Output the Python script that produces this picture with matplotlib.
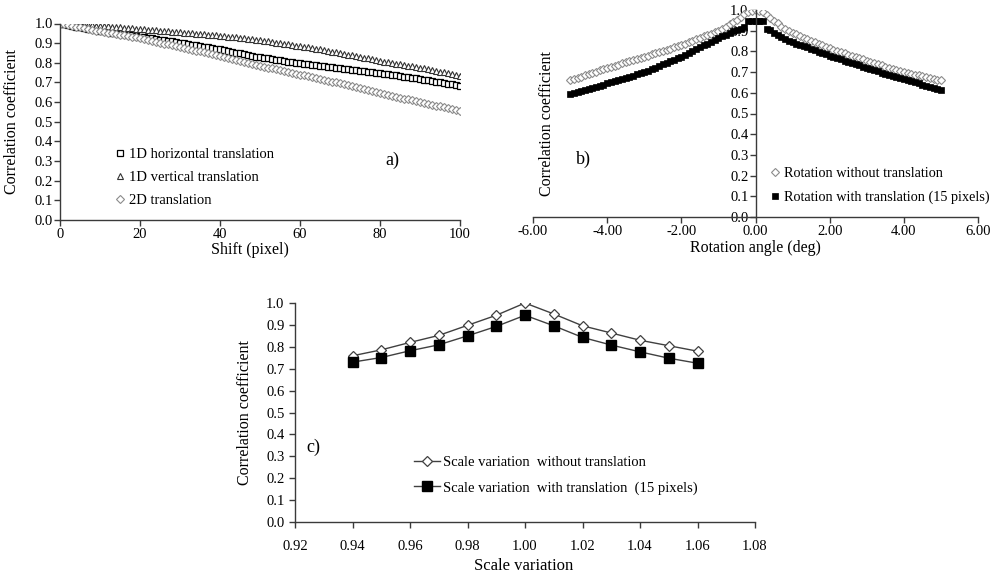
import numpy as np
import matplotlib
matplotlib.use("Agg")
import matplotlib.pyplot as plt

plt.rcParams['font.family'] = ['Liberation Serif', 'DejaVu Serif']

# ---------------- Panel a data ----------------
shift = list(range(0, 101))
horiz_1d = [1.000,0.996,0.992,0.988,0.984,0.980,0.977,0.973,0.970,0.966,0.963,
            0.960,0.957,0.954,0.951,0.948,0.945,0.942,0.939,0.936,0.933,
            0.930,0.927,0.924,0.921,0.918,0.915,0.912,0.909,0.906,0.903,
            0.899,0.896,0.892,0.889,0.885,0.882,0.878,0.875,0.871,0.868,
            0.864,0.860,0.856,0.852,0.848,0.844,0.840,0.836,0.832,0.828,
            0.825,0.822,0.819,0.816,0.813,0.809,0.806,0.803,0.800,0.797,
            0.795,0.792,0.790,0.787,0.785,0.782,0.780,0.777,0.775,0.772,
            0.770,0.767,0.765,0.762,0.760,0.757,0.755,0.753,0.750,0.748,
            0.745,0.742,0.739,0.736,0.733,0.730,0.727,0.724,0.721,0.718,
            0.715,0.711,0.708,0.704,0.701,0.697,0.694,0.690,0.687,0.683]
vert_1d = [1.000,0.999,0.998,0.996,0.995,0.994,0.993,0.992,0.991,0.989,0.988,
           0.986,0.985,0.983,0.982,0.980,0.978,0.977,0.975,0.974,0.972,
           0.970,0.968,0.967,0.965,0.963,0.962,0.960,0.958,0.957,0.955,
           0.953,0.952,0.950,0.948,0.946,0.945,0.943,0.941,0.940,0.938,
           0.936,0.933,0.931,0.929,0.927,0.924,0.922,0.920,0.917,0.915,
           0.912,0.909,0.906,0.903,0.900,0.897,0.894,0.891,0.888,0.885,
           0.882,0.878,0.875,0.871,0.868,0.864,0.861,0.857,0.854,0.850,
           0.846,0.842,0.838,0.834,0.830,0.826,0.822,0.818,0.814,0.810,
           0.806,0.803,0.799,0.796,0.792,0.789,0.785,0.782,0.778,0.775,
           0.771,0.767,0.763,0.759,0.755,0.751,0.747,0.743,0.739,0.735]
trans_2d = [1.000,0.996,0.992,0.988,0.984,0.980,0.976,0.972,0.968,0.964,0.960,
            0.957,0.953,0.950,0.946,0.943,0.939,0.936,0.932,0.929,0.925,
            0.921,0.916,0.912,0.907,0.903,0.898,0.894,0.889,0.885,0.880,
            0.876,0.871,0.867,0.862,0.858,0.853,0.849,0.844,0.840,0.835,
            0.830,0.825,0.820,0.815,0.810,0.805,0.800,0.795,0.790,0.785,
            0.781,0.776,0.772,0.767,0.763,0.758,0.754,0.749,0.745,0.740,
            0.736,0.731,0.727,0.722,0.718,0.713,0.709,0.704,0.700,0.695,
            0.690,0.685,0.680,0.675,0.670,0.665,0.660,0.655,0.650,0.645,
            0.641,0.636,0.632,0.627,0.623,0.618,0.614,0.609,0.605,0.600,
            0.596,0.591,0.587,0.582,0.578,0.573,0.569,0.564,0.560,0.555]

# ---------------- Panel b data ----------------
angle = [round(-5.0 + 0.1 * i, 1) for i in range(101)]
rot_no_trans = [0.660,0.666,0.672,0.678,0.684,0.690,0.696,0.702,0.708,0.714,
                0.720,0.725,0.731,0.736,0.742,0.747,0.753,0.758,0.764,0.769,
                0.775,0.780,0.786,0.791,0.797,0.802,0.808,0.813,0.819,0.824,
                0.830,0.837,0.844,0.851,0.858,0.865,0.872,0.879,0.886,0.893,
                0.900,0.910,0.920,0.930,0.940,0.950,0.965,0.980,0.990,0.997,
                1.000,0.997,0.990,0.975,0.960,0.945,0.935,0.920,0.910,0.900,
                0.890,0.882,0.874,0.867,0.859,0.852,0.845,0.837,0.830,0.822,
                0.815,0.809,0.803,0.797,0.791,0.785,0.779,0.773,0.767,0.761,
                0.755,0.749,0.744,0.738,0.733,0.727,0.722,0.716,0.711,0.705,
                0.700,0.696,0.692,0.688,0.684,0.680,0.676,0.672,0.668,0.664,0.660]
rot_with_trans = [0.595,0.600,0.605,0.610,0.615,0.620,0.625,0.630,0.635,0.640,
                  0.645,0.650,0.656,0.661,0.667,0.672,0.678,0.683,0.689,0.694,
                  0.700,0.707,0.715,0.722,0.730,0.737,0.745,0.752,0.760,0.767,
                  0.775,0.784,0.793,0.802,0.811,0.820,0.829,0.838,0.847,0.856,
                  0.865,0.873,0.881,0.889,0.897,0.905,0.910,0.920,0.945,0.945,
                  0.945,0.945,0.945,0.910,0.905,0.890,0.880,0.870,0.860,0.852,
                  0.845,0.838,0.832,0.825,0.819,0.812,0.806,0.799,0.793,0.786,
                  0.780,0.774,0.768,0.762,0.756,0.750,0.744,0.738,0.732,0.726,
                  0.720,0.714,0.709,0.703,0.698,0.692,0.687,0.681,0.676,0.670,
                  0.665,0.660,0.655,0.650,0.645,0.640,0.635,0.630,0.625,0.620,0.615]

# ---------------- Panel c data ----------------
scale = [0.94, 0.95, 0.96, 0.97, 0.98, 0.99, 1.00, 1.01, 1.02, 1.03, 1.04, 1.05, 1.06]
scale_no_trans = [0.759, 0.786, 0.820, 0.852, 0.898, 0.944, 1.000, 0.950, 0.896, 0.863, 0.830, 0.805, 0.780]
scale_with_trans = [0.730, 0.751, 0.782, 0.809, 0.850, 0.893, 0.944, 0.896, 0.843, 0.808, 0.777, 0.748, 0.725]

yticks = [round(0.1 * i, 1) for i in range(11)]

W, H = 1000, 576
fig = plt.figure(figsize=(10, 5.76), dpi=100)

def px_axes(x0, x1, ytop, ybot):
    return fig.add_axes([x0 / W, 1 - ybot / H, (x1 - x0) / W, (ybot - ytop) / H])

SP = '#3a3a3a'
TFS = 10.5
LFS = 11.5

def style(ax, xpad=2.0, ypad=1.0):
    for s in ['top', 'right']:
        ax.spines[s].set_visible(False)
    for s in ['left', 'bottom']:
        ax.spines[s].set_color(SP)
        ax.spines[s].set_linewidth(1.0)
    ax.tick_params(colors=SP, labelcolor='black', labelsize=TFS, length=4, width=1.0)
    ax.tick_params(axis='x', pad=xpad)
    ax.tick_params(axis='y', pad=ypad)

# ---------- a ----------
ax = px_axes(60, 460, 23.5, 220)
style(ax)
ax.plot(shift, horiz_1d, ls='none', marker='s', ms=4.6, mfc='white', mec='black', mew=0.9,
        label='1D horizontal translation')
ax.plot(shift, vert_1d, ls='none', marker='^', ms=4.8, mfc='white', mec='#333333', mew=0.8,
        label='1D vertical translation')
ax.plot(shift, trans_2d, ls='none', marker='D', ms=3.8, mfc='white', mec='#8c8c8c', mew=0.8,
        label='2D translation')
ax.set_xlim(0, 100)
ax.set_ylim(0, 1.0)
ax.set_xticks([0, 20, 40, 60, 80, 100])
ax.set_yticks(yticks)
ax.set_yticklabels([f'{v:.1f}' for v in yticks])
ax.set_xlabel('Shift (pixel)', fontsize=LFS)
ax.xaxis.set_label_coords(0.475, -30 / 196.5)
ax.xaxis.label.set_va('center')
ax.set_ylabel('Correlation coefficient', fontsize=LFS)
ax.yaxis.set_label_coords(-48 / 400, 0.5)
ax.yaxis.label.set_va('center')
ax.legend(loc='upper left', bbox_to_anchor=(0.122, 0.398), frameon=False, fontsize=TFS,
          handlelength=0.8, handletextpad=0.2, labelspacing=0.68, borderaxespad=0)
ax.text(83, 0.305, 'a)', fontsize=13, ha='center', va='center')

# ---------- b ----------
bx = px_axes(533, 978, 10, 217)
style(bx)
bx.spines['left'].set_position(('data', 0))
bx.plot(angle, rot_no_trans, ls='none', marker='D', ms=4.3, mfc='white', mec='#8c8c8c', mew=0.8,
        label='Rotation without translation')
bx.plot(angle, rot_with_trans, ls='none', marker='s', ms=4.2, mfc='black', mec='black', mew=0.5,
        label='Rotation with translation (15 pixels)')
bx.set_xlim(-6, 6)
bx.set_ylim(0, 1.0)
bx.set_xticks([-6, -4, -2, 0, 2, 4, 6])
bx.set_xticklabels([f'{v:.2f}' for v in [-6, -4, -2, 0, 2, 4, 6]])
bx.set_yticks(yticks)
bx.set_yticklabels([f'{v:.1f}' for v in yticks])
bx.set_xlabel('Rotation angle (deg)', fontsize=LFS)
bx.xaxis.set_label_coords(0.499, -31 / 207)
bx.xaxis.label.set_va('center')
bx.set_ylabel('Correlation coefficient', fontsize=LFS)
bx.yaxis.set_label_coords(14 / 445, 0.45)
bx.yaxis.label.set_va('center')
bx.legend(loc='upper left', bbox_to_anchor=(0.531, 0.243), frameon=False, fontsize=10.3,
          handlelength=0.8, handletextpad=0.2, labelspacing=0.74, borderaxespad=0,
          borderpad=0)
bx.text(-4.65, 0.28, 'b)', fontsize=13, ha='center', va='center')

# ---------- c ----------
cx = px_axes(295, 755, 303, 522)
style(cx, xpad=9.0, ypad=3.5)
cx.plot(scale, scale_no_trans, color='#404040', lw=1.0, marker='D', ms=5, mfc='white',
        mec='#404040', mew=0.9, label='Scale variation  without translation')
cx.plot(scale, scale_with_trans, color='#404040', lw=1.0, marker='s', ms=7, mfc='black',
        mec='black', label='Scale variation  with translation  (15 pixels)')
cx.set_xlim(0.92, 1.08)
cx.set_ylim(0, 1.0)
xt = [0.92, 0.94, 0.96, 0.98, 1.00, 1.02, 1.04, 1.06, 1.08]
cx.set_xticks(xt)
cx.set_xticklabels([f'{v:.2f}' for v in xt])
cx.set_yticks(yticks)
cx.set_yticklabels([f'{v:.1f}' for v in yticks])
cx.set_xlabel('Scale variation', fontsize=LFS + 0.5)
cx.xaxis.set_label_coords(0.498, -44 / 219)
cx.xaxis.label.set_va('center')
cx.set_ylabel('Correlation coefficient', fontsize=LFS)
cx.yaxis.set_label_coords(-50 / 460, 0.5)
cx.yaxis.label.set_va('center')
cx.legend(loc='upper left', bbox_to_anchor=(0.245, 0.33), frameon=False, fontsize=TFS,
          handlelength=1.8, handletextpad=0.2, labelspacing=0.85, borderaxespad=0)
cx.text(0.9265, 0.34, 'c)', fontsize=13, ha='center', va='center')

fig.savefig('out.png', dpi=100)
